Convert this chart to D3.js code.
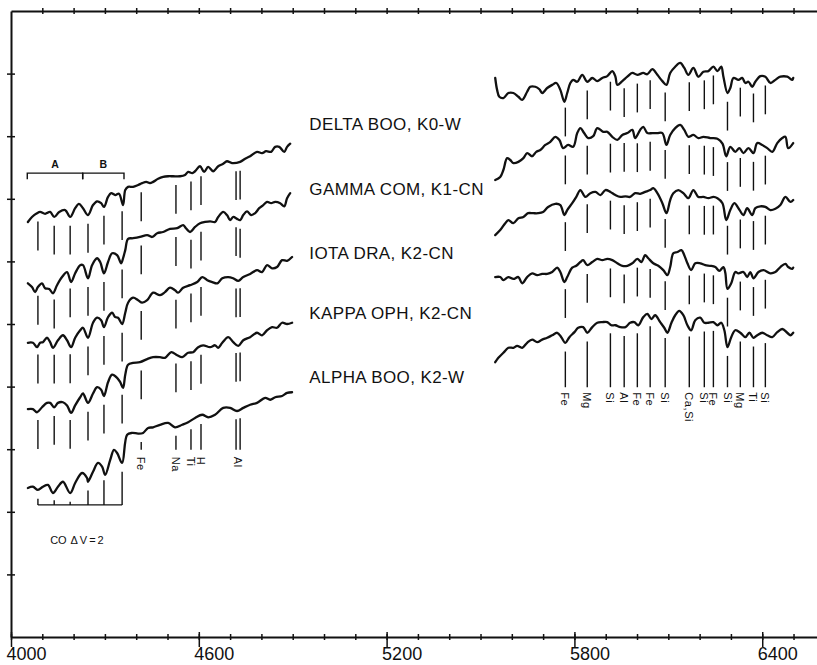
<!DOCTYPE html>
<html>
<head>
<meta charset="utf-8">
<script src="https://cdn.jsdelivr.net/npm/d3@7"></script>
<style>
  body { margin: 0; background: #fff; }
  svg { display: block; }
  text { font-family: "Liberation Sans", Arial, sans-serif; fill: #111; }
</style>
</head>
<body>
<svg id="chart" width="817" height="665"></svg>
<script>
// ---- frame ticks (wavelength, Angstrom) ----
const majorTicks = [4000, 4600, 5200, 5800, 6400];
const minorTicks = d3.range(4000, 6600, 100);
const levelTicks = [1, 2, 3, 4, 5, 6, 7, 8, 9];

// ---- stars, top to bottom ----
const starNames = ["DELTA BOO, K0-W", "GAMMA COM, K1-CN", "IOTA DRA, K2-CN", "KAPPA OPH, K2-CN", "ALPHA BOO, K2-W"];
const starLabelLevels = [8.19, 7.16, 6.14, 5.17, 4.16];
const starLabelWave = 4953;

// ---- spectra: [wavelength, offset flux] ----
const deltaBooBlue = [[4054,6.63],[4067,6.71],[4083,6.77],[4093,6.79],[4109,6.76],[4125,6.79],[4138,6.71],[4154,6.79],[4173,6.82],[4189,6.71],[4205,6.85],[4217,6.92],[4230,6.85],[4246,6.74],[4262,6.90],[4275,6.96],[4288,6.93],[4297,6.87],[4310,7.03],[4320,7.09],[4333,7.06],[4345,7.08],[4358,6.90],[4365,7.14],[4374,7.19],[4390,7.19],[4406,7.22],[4419,7.25],[4432,7.27],[4444,7.25],[4454,7.27],[4470,7.32],[4486,7.35],[4502,7.36],[4518,7.36],[4540,7.36],[4556,7.38],[4566,7.43],[4579,7.41],[4588,7.44],[4604,7.52],[4617,7.43],[4630,7.51],[4646,7.44],[4662,7.52],[4678,7.56],[4690,7.60],[4706,7.57],[4732,7.59],[4748,7.64],[4764,7.68],[4786,7.75],[4802,7.73],[4815,7.76],[4831,7.75],[4844,7.83],[4857,7.83],[4873,7.75],[4882,7.83],[4892,7.88]];
const gammaComBlue = [[4054,5.65],[4067,5.59],[4077,5.51],[4086,5.59],[4099,5.65],[4109,5.57],[4122,5.56],[4134,5.49],[4147,5.62],[4163,5.75],[4179,5.83],[4192,5.67],[4205,5.81],[4221,5.94],[4230,5.94],[4246,5.73],[4259,5.94],[4275,6.05],[4285,5.99],[4297,5.81],[4310,5.99],[4323,6.13],[4339,6.10],[4352,5.97],[4358,6.05],[4365,6.18],[4374,6.36],[4390,6.37],[4412,6.39],[4435,6.42],[4451,6.39],[4467,6.45],[4486,6.47],[4508,6.52],[4531,6.53],[4550,6.58],[4559,6.53],[4572,6.47],[4588,6.55],[4604,6.61],[4620,6.63],[4636,6.64],[4652,6.63],[4662,6.71],[4678,6.79],[4690,6.74],[4700,6.66],[4710,6.71],[4722,6.68],[4732,6.66],[4742,6.74],[4754,6.80],[4767,6.74],[4780,6.77],[4793,6.85],[4806,6.90],[4818,6.95],[4831,6.93],[4844,6.95],[4860,6.93],[4873,6.88],[4882,7.01],[4892,7.09]];
const iotaDraBlue = [[4054,4.70],[4070,4.70],[4083,4.63],[4093,4.70],[4102,4.71],[4115,4.78],[4125,4.71],[4134,4.62],[4150,4.74],[4166,4.82],[4179,4.74],[4192,4.63],[4205,4.78],[4221,4.90],[4230,4.94],[4246,4.78],[4262,5.02],[4275,5.10],[4288,5.06],[4297,4.95],[4310,5.11],[4323,5.18],[4333,5.11],[4342,5.10],[4355,5.00],[4365,5.18],[4374,5.34],[4390,5.42],[4406,5.38],[4419,5.34],[4435,5.38],[4454,5.50],[4476,5.46],[4492,5.51],[4508,5.58],[4524,5.54],[4534,5.50],[4550,5.58],[4572,5.62],[4595,5.67],[4611,5.75],[4627,5.70],[4643,5.67],[4659,5.65],[4675,5.73],[4694,5.75],[4710,5.73],[4726,5.69],[4742,5.75],[4764,5.80],[4786,5.86],[4802,5.83],[4818,5.94],[4834,5.89],[4850,5.91],[4866,6.02],[4882,6.01],[4898,6.07]];
const kappaOphBlue = [[4054,3.64],[4070,3.64],[4083,3.59],[4099,3.67],[4115,3.74],[4125,3.74],[4138,3.67],[4150,3.74],[4166,3.75],[4179,3.70],[4192,3.58],[4205,3.70],[4221,3.83],[4230,3.89],[4246,3.74],[4262,3.89],[4275,3.99],[4288,3.95],[4297,3.85],[4310,4.07],[4323,4.19],[4339,4.14],[4349,4.07],[4358,3.98],[4365,4.19],[4374,4.35],[4390,4.38],[4412,4.39],[4435,4.44],[4454,4.47],[4476,4.47],[4492,4.46],[4512,4.55],[4531,4.50],[4547,4.47],[4566,4.54],[4582,4.55],[4598,4.63],[4614,4.66],[4636,4.63],[4652,4.66],[4662,4.62],[4675,4.70],[4694,4.79],[4710,4.71],[4726,4.65],[4742,4.74],[4764,4.79],[4786,4.86],[4802,4.82],[4818,4.90],[4834,4.95],[4850,4.94],[4866,5.02],[4882,5.00],[4898,5.02]];
const alphaBooBlue = [[4054,2.38],[4070,2.40],[4086,2.35],[4102,2.40],[4118,2.43],[4134,2.30],[4150,2.40],[4166,2.48],[4189,2.30],[4205,2.46],[4227,2.62],[4243,2.54],[4246,2.48],[4262,2.64],[4278,2.78],[4291,2.72],[4301,2.59],[4317,2.83],[4329,2.99],[4339,2.94],[4355,2.78],[4371,3.23],[4387,3.26],[4406,3.25],[4422,3.26],[4438,3.34],[4454,3.35],[4476,3.39],[4502,3.42],[4524,3.35],[4547,3.39],[4566,3.43],[4588,3.50],[4611,3.55],[4630,3.51],[4652,3.55],[4678,3.66],[4700,3.66],[4722,3.61],[4742,3.66],[4764,3.71],[4786,3.74],[4812,3.82],[4828,3.79],[4844,3.83],[4866,3.85],[4882,3.90],[4898,3.91]];

const deltaBooRed = [[5547,8.93],[5553,8.74],[5560,8.63],[5573,8.61],[5589,8.69],[5605,8.69],[5621,8.63],[5633,8.58],[5649,8.71],[5659,8.79],[5675,8.79],[5688,8.75],[5697,8.69],[5713,8.77],[5729,8.82],[5742,8.85],[5755,8.74],[5768,8.55],[5777,8.69],[5787,8.85],[5796,8.90],[5809,8.87],[5825,8.98],[5841,8.87],[5857,8.93],[5873,8.88],[5889,8.93],[5905,8.96],[5921,9.04],[5931,8.95],[5937,8.82],[5953,8.88],[5969,8.95],[5985,9.01],[6001,8.98],[6020,9.01],[6033,8.99],[6049,9.07],[6065,8.98],[6081,8.88],[6094,8.82],[6106,9.01],[6122,9.11],[6138,9.17],[6151,9.09],[6164,8.98],[6180,9.09],[6196,8.95],[6212,9.03],[6228,9.04],[6244,9.11],[6257,9.04],[6269,9.11],[6276,8.95],[6289,8.69],[6298,8.77],[6308,8.93],[6324,8.90],[6336,8.93],[6346,8.85],[6356,8.87],[6368,8.79],[6378,8.87],[6394,8.96],[6410,8.95],[6426,8.85],[6442,8.90],[6458,8.95],[6480,8.95],[6496,8.90],[6499,8.93]];
const gammaComRed = [[5547,7.30],[5563,7.35],[5573,7.46],[5585,7.65],[5595,7.62],[5605,7.57],[5621,7.59],[5637,7.65],[5649,7.73],[5665,7.68],[5678,7.75],[5691,7.78],[5707,7.86],[5723,7.91],[5739,7.99],[5752,7.94],[5764,7.81],[5780,7.86],[5796,7.83],[5809,8.05],[5819,8.13],[5831,8.05],[5844,7.97],[5860,8.00],[5873,8.13],[5892,8.07],[5905,8.07],[5921,7.99],[5937,7.94],[5953,8.02],[5969,8.05],[5985,8.10],[5994,7.97],[6010,8.10],[6020,8.15],[6033,8.05],[6049,8.05],[6065,8.05],[6081,8.05],[6094,7.86],[6106,8.02],[6122,8.13],[6138,8.18],[6151,8.10],[6164,7.99],[6180,8.02],[6196,7.97],[6212,7.99],[6234,7.97],[6257,7.96],[6273,7.88],[6285,7.68],[6298,7.83],[6314,7.75],[6327,7.81],[6340,7.73],[6356,7.81],[6372,7.73],[6384,7.89],[6400,7.86],[6416,7.81],[6432,7.75],[6448,7.89],[6464,7.97],[6474,7.99],[6483,7.81],[6499,7.89]];
const iotaDraRed = [[5547,6.42],[5563,6.50],[5579,6.61],[5589,6.66],[5605,6.61],[5621,6.69],[5637,6.71],[5652,6.77],[5668,6.77],[5684,6.77],[5700,6.79],[5716,6.87],[5739,6.92],[5755,6.90],[5768,6.74],[5777,6.82],[5793,6.93],[5806,7.03],[5819,7.14],[5835,7.03],[5851,7.09],[5867,7.11],[5883,7.06],[5899,7.14],[5915,7.11],[5931,7.06],[5947,7.03],[5963,7.04],[5978,7.03],[5994,7.09],[6010,7.08],[6026,7.11],[6042,7.14],[6052,7.17],[6065,7.09],[6081,6.93],[6094,6.77],[6106,6.98],[6116,7.09],[6132,7.14],[6148,7.09],[6164,7.01],[6180,7.14],[6196,7.03],[6212,7.03],[6228,7.01],[6244,7.03],[6257,7.01],[6273,6.93],[6285,6.66],[6298,6.82],[6311,6.93],[6324,6.85],[6340,6.74],[6352,6.85],[6368,6.74],[6378,6.85],[6394,6.88],[6410,6.87],[6426,6.82],[6442,6.84],[6458,6.90],[6474,7.03],[6490,6.95],[6499,6.98]];
const kappaOphRed = [[5547,5.75],[5563,5.75],[5573,5.70],[5589,5.75],[5605,5.72],[5621,5.75],[5633,5.65],[5649,5.75],[5665,5.81],[5681,5.78],[5697,5.80],[5713,5.80],[5729,5.83],[5745,5.90],[5755,5.83],[5768,5.67],[5777,5.75],[5793,5.90],[5806,5.93],[5819,5.99],[5828,6.02],[5841,5.94],[5857,5.99],[5873,6.04],[5889,6.02],[5905,6.04],[5921,6.02],[5937,5.97],[5953,5.93],[5969,5.93],[5985,5.97],[6001,6.04],[6014,5.99],[6026,6.10],[6036,6.05],[6052,5.97],[6068,5.93],[6084,5.86],[6097,5.78],[6106,5.91],[6116,6.13],[6129,6.15],[6142,6.18],[6151,6.10],[6161,5.97],[6173,5.86],[6186,5.97],[6202,5.97],[6218,5.94],[6234,5.93],[6250,5.91],[6263,5.85],[6276,5.91],[6282,5.82],[6289,5.56],[6301,5.65],[6314,5.83],[6324,5.81],[6340,5.83],[6352,5.75],[6362,5.83],[6372,5.73],[6388,5.83],[6404,5.86],[6426,5.81],[6442,5.83],[6458,5.91],[6474,5.96],[6483,5.91],[6496,5.88],[6499,5.90]];
const alphaBooRed = [[5547,4.39],[5557,4.46],[5573,4.54],[5589,4.62],[5605,4.62],[5617,4.65],[5633,4.62],[5649,4.70],[5665,4.75],[5681,4.71],[5697,4.75],[5713,4.78],[5729,4.82],[5745,4.86],[5758,4.79],[5771,4.70],[5784,4.79],[5800,4.87],[5812,4.94],[5828,4.95],[5841,4.86],[5857,4.95],[5873,5.02],[5889,5.03],[5905,5.03],[5918,4.98],[5931,4.98],[5947,4.95],[5963,4.95],[5978,5.02],[5991,5.03],[6004,4.98],[6020,5.11],[6033,5.16],[6046,5.08],[6058,5.14],[6074,5.03],[6087,4.94],[6097,4.86],[6110,5.02],[6122,5.14],[6135,5.21],[6148,5.14],[6161,4.98],[6173,4.90],[6186,5.06],[6202,5.10],[6215,5.02],[6228,5.02],[6244,5.03],[6257,4.98],[6269,5.02],[6279,4.90],[6289,4.63],[6301,4.79],[6314,4.90],[6330,4.86],[6346,4.79],[6359,4.86],[6372,4.78],[6384,4.82],[6400,4.86],[6416,4.82],[6432,4.79],[6448,4.87],[6464,4.92],[6480,4.86],[6490,4.82],[6499,4.86]];

const blueSpectra = [deltaBooBlue, gammaComBlue, iotaDraBlue, kappaOphBlue, alphaBooBlue];
const redSpectra = [deltaBooRed, gammaComRed, iotaDraRed, kappaOphRed, alphaBooRed];

// ---- line identifications ----
const coHeads = [4086, 4138, 4189, 4246, 4297, 4355];
const blueAtomLines = [4416, 4527, 4575, 4607, 4719, 4732];
const blueAtomLabels = [["Fe", 4416], ["Na", 4527], ["Ti", 4575], ["H", 4607], ["Al", 4725]];
const redLines = [5771, 5841, 5915, 5959, 6001, 6042, 6090, 6167, 6215, 6244, 6289, 6330, 6372, 6410];
const redLabels = ["Fe", "Mg", "Si", "Al", "Fe", "Fe", "Si", "Ca,Si", "Si", "Fe", "Si", "Mg", "Ti", "Si"];

// CO band brackets above the top spectrum
const bandNames = ["A", "B"];
const bandEdges = [[4052, 4229], [4229, 4361]];
const bandLevel = 7.41;

// ---- layout ----
const W = 817, H = 665;
const svg = d3.select("#chart");
const x = d3.scaleLinear().domain([4000, 6575]).range([11, W]);
const y = d3.scaleLinear().domain([0, 10]).range([637, 11]);

const markGap = 0.14;      // space between a spectrum and its line marks
const markLength = 0.46;   // length of a line mark
const coFloor = 2.11;      // bottom of the CO bracket
const blueFloor = 2.99;    // bottom of the labelled blue marks
const redFloor = 3.99;     // bottom of the labelled red marks
const blueLabelLevel = 2.88;
const redLabelLevel = 3.91;
const coLabelLevel = 1.55;

function fluxAt(series, w) {
  const i = d3.bisector(d => d[0]).left(series, w);
  if (i <= 0) return series[0][1];
  if (i >= series.length) return series[series.length - 1][1];
  const a = series[i - 1], b = series[i];
  return a[1] + (b[1] - a[1]) * (w - a[0]) / (b[0] - a[0]);
}

// ---- frame ----
const bottomMinor = svg.append("g").attr("transform", `translate(0,${y(0)})`)
  .call(d3.axisBottom(x).tickValues(minorTicks).tickSizeOuter(0).tickFormat(""));
bottomMinor.selectAll(".tick line").attr("y1", -3).attr("y2", 3);

const bottomMajor = svg.append("g").attr("transform", `translate(0,${y(0)})`)
  .call(d3.axisBottom(x).tickValues(majorTicks).tickSizeOuter(0).tickFormat(d3.format("d")));
bottomMajor.select(".domain").remove();
bottomMajor.selectAll(".tick line").attr("y1", -5).attr("y2", 10);
bottomMajor.selectAll(".tick text")
  .attr("x", -5).attr("y", 23).attr("dy", null)
  .attr("text-anchor", "start")
  .style("font-size", "18px");

const topAxis = svg.append("g").attr("transform", `translate(0,${y(10)})`)
  .call(d3.axisTop(x).tickValues(minorTicks.filter(t => t > 4000)).tickSizeOuter(0).tickFormat(""));
topAxis.selectAll(".tick line").attr("y1", -3).attr("y2", 3);

const leftAxis = svg.append("g").attr("transform", `translate(${x(4000)},0)`)
  .call(d3.axisLeft(y).tickValues(levelTicks).tickSizeOuter(0).tickFormat(""));
leftAxis.selectAll(".tick line").attr("x1", -4).attr("x2", 4);

svg.selectAll(".domain").attr("stroke", "#111").attr("stroke-width", 2);
svg.selectAll(".tick line").attr("stroke", "#111").attr("stroke-width", 1.5);

// ---- spectra ----
const line = d3.line()
  .x(d => x(d[0]))
  .y(d => y(d[1]))
  .curve(d3.curveCatmullRom.alpha(0.5));

const spectra = svg.append("g")
  .attr("fill", "none").attr("stroke", "#111")
  .attr("stroke-width", 2.3).attr("stroke-linejoin", "round").attr("stroke-linecap", "round");
spectra.selectAll("path.blue").data(blueSpectra).join("path").attr("class", "blue").attr("d", line);
spectra.selectAll("path.red").data(redSpectra).join("path").attr("class", "red").attr("d", line);

// ---- line marks below each spectrum ----
const marks = [];
const blueLines = coHeads.concat(blueAtomLines);
blueSpectra.forEach((s, r) => {
  const last = r === blueSpectra.length - 1;
  blueLines.forEach(w => {
    const top = fluxAt(s, w) - markGap;
    let bottom = top - markLength;
    if (last) bottom = coHeads.includes(w) ? coFloor : blueFloor;
    marks.push({ w, top, bottom });
  });
});
redSpectra.forEach((s, r) => {
  const last = r === redSpectra.length - 1;
  redLines.forEach(w => {
    const top = fluxAt(s, w) - markGap;
    const bottom = last ? redFloor : top - markLength;
    marks.push({ w, top, bottom });
  });
});

const markG = svg.append("g").attr("stroke", "#111").attr("stroke-width", 1.4);
markG.selectAll("line.mark").data(marks).join("line")
  .attr("class", "mark")
  .attr("x1", d => x(d.w)).attr("x2", d => x(d.w))
  .attr("y1", d => y(d.top)).attr("y2", d => y(d.bottom));

// CO bracket
markG.append("line")
  .attr("x1", x(coHeads[0])).attr("x2", x(coHeads[coHeads.length - 1]))
  .attr("y1", y(coFloor)).attr("y2", y(coFloor));

const coText = svg.append("text")
  .attr("x", x(4125)).attr("y", y(coLabelLevel))
  .attr("dy", "0.36em")
  .style("font-size", "11px");
coText.append("tspan").text("CO");
coText.append("tspan").attr("x", x(4190)).style("letter-spacing", "2px").text("ΔV=2");

// band brackets A / B
const bandG = svg.append("g").attr("stroke", "#111").attr("stroke-width", 1.4).attr("fill", "none");
bandEdges.forEach(([a, b]) => {
  bandG.append("path").attr("d",
    `M${x(a)},${y(bandLevel) + 6}V${y(bandLevel)}H${x(b)}V${y(bandLevel) + 6}`);
});
svg.selectAll("text.band").data(bandNames).join("text")
  .attr("class", "band")
  .attr("x", (d, i) => x((bandEdges[i][0] + bandEdges[i][1]) / 2))
  .attr("y", y(bandLevel) - 5)
  .attr("text-anchor", "middle")
  .style("font-size", "10.5px").style("font-weight", "bold")
  .text(d => d);

// ---- element labels (vertical) ----
function vLabel(w, level, txt) {
  const px = x(w), py = y(level);
  svg.append("text")
    .attr("transform", `translate(${px},${py}) rotate(90)`)
    .attr("dy", "0.36em")
    .style("font-size", "11px").style("letter-spacing", "0.6px")
    .text(txt);
}
blueAtomLabels.forEach(([t, w]) => vLabel(w, blueLabelLevel, t));
redLines.forEach((w, i) => vLabel(w, redLabelLevel, redLabels[i]));

// ---- star names ----
svg.selectAll("text.star").data(starNames).join("text")
  .attr("class", "star")
  .attr("x", x(starLabelWave))
  .attr("y", (d, i) => y(starLabelLevels[i]))
  .attr("dy", "0.36em")
  .style("font-size", "17px").style("letter-spacing", "0.4px")
  .text(d => d);
</script>
</body>
</html>
